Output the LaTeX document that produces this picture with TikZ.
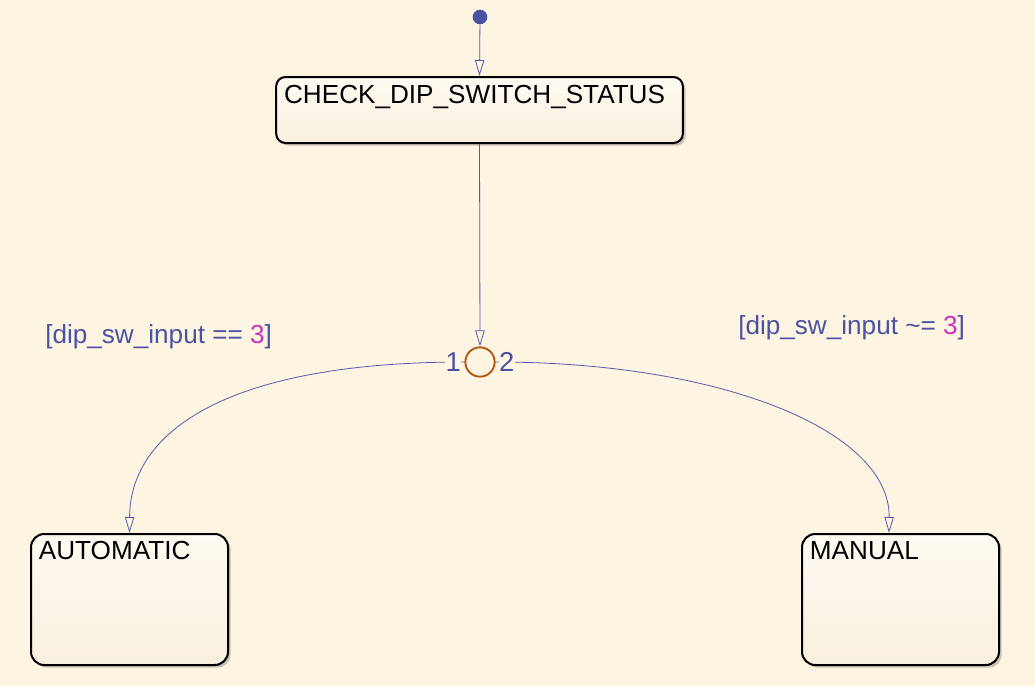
\documentclass[tikz,border=0pt]{standalone}
\usepackage{xcolor}
\usepackage{fontspec}
\setmainfont{Liberation Sans}
\usepackage{tikz}
\usetikzlibrary{arrows.meta, shadows, positioning, calc}
\definecolor{sfbg}{RGB}{253,244,225}
\definecolor{sftop}{RGB}{255,251,242}
\definecolor{sfbot}{RGB}{248,239,222}
\definecolor{sfblue}{RGB}{74,82,162}
\definecolor{sfline}{RGB}{84,92,176}
\definecolor{sfnum}{RGB}{200,52,190}
\definecolor{sfjunc}{RGB}{178,86,18}
\tikzset{
	state/.style={draw=black, line width=1.5pt, rounded corners=10pt, top color=sftop, bottom color=sfbot,
		drop shadow={shadow xshift=2pt, shadow yshift=-2pt, opacity=0.3, fill=black!70}},
	trans/.style={draw=sfline, line width=0.6pt, -{Triangle[open, length=12pt, width=7pt]}}
}
\newcommand{\cond}[2]{\textcolor{sfblue}{[#1 #2 }\textcolor{sfnum}{3}\textcolor{sfblue}{]}}

\begin{document}
\begin{tikzpicture}[
	x=0.75pt, y=-0.75pt,
	t/.style={anchor=north west, inner sep=0pt, font=\fontsize{19.6}{23}\selectfont},
	lbl/.style={text=sfblue, inner sep=0pt, font=\fontsize{19.6}{23}\selectfont},
	num/.style={text=sfblue, fill=sfbg, inner sep=0.5pt, font=\fontsize{20.5}{24}\selectfont}]
	\useasboundingbox[fill=sfbg] (0,0) rectangle (1035,686);
	\node[circle, fill=sfblue, minimum size=11pt, inner sep=0pt] (init) at (480,17) {};
	\node[state, rounded corners=7pt, minimum width=305pt, minimum height=49.5pt,
		label={[t, xshift=6.5pt, yshift=-7pt]north west:CHECK\_DIP\_SWITCH\_STATUS}] (check) at (479.5,110) {};
	\node[circle, draw=sfjunc, line width=1.4pt, minimum size=22pt, inner sep=0pt] (junc) at (480,362) {};
	\node[state, minimum width=147.75pt, minimum height=98.25pt,
		label={[t, xshift=6.5pt, yshift=-6pt]north west:AUTOMATIC}] (auto) at (129.5,599.5) {};
	\node[state, minimum width=147.75pt, minimum height=98.25pt,
		label={[t, xshift=6.5pt, yshift=-6pt]north west:MANUAL}] (manual) at (900.5,599.5) {};
	\draw[trans] (init) -- (check.north);
	\draw[trans] (check.south) -- (junc.north);
	\draw[trans] (junc.west) .. controls (230,362) and (130,430) .. (auto.north);
	\draw[trans] (junc.east) .. controls (720,362) and (890,430) .. ([xshift=66pt]manual.north west);
	\node[num, anchor=east] (one) at ([xshift=-2pt]junc.west) {1};
	\node[num, anchor=west] (two) at ([xshift=2pt]junc.east) {2};
	\node[lbl, anchor=west] (ceq) at (45,337) {\cond{dip\_sw\_input}{==}};
	\node[lbl, anchor=west] (cne) at (738,328) {\cond{dip\_sw\_input}{\textasciitilde=}};
\end{tikzpicture}
\end{document}
